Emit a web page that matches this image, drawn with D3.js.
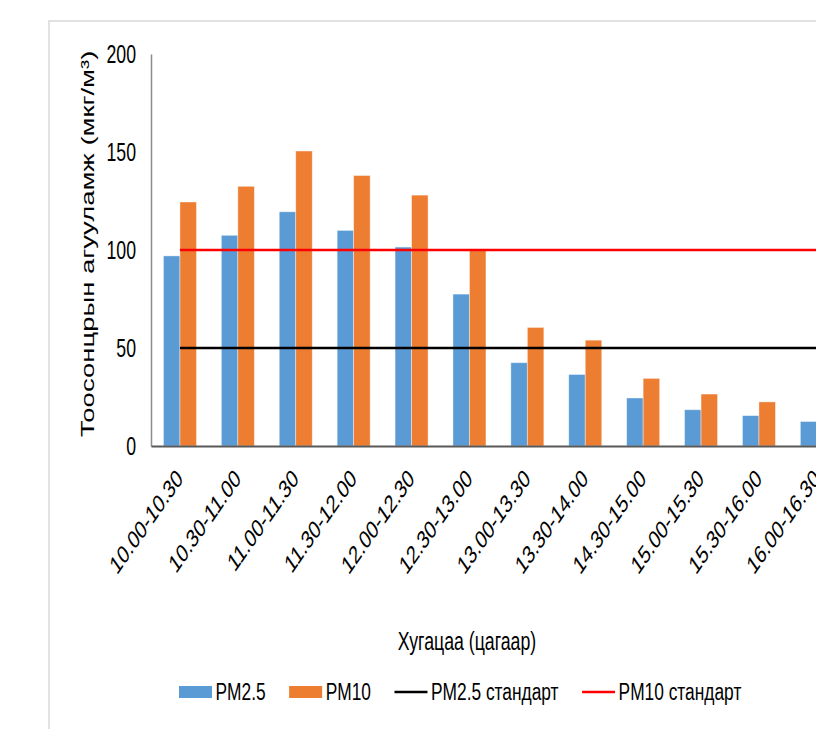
<!DOCTYPE html>
<html>
<head>
    <title>PM2.5 / PM10</title>
    <script src="https://cdnjs.cloudflare.com/ajax/libs/d3/7.8.5/d3.min.js"></script>
    <style>
        body {
            margin: 0;
            background-color: white;
            overflow: hidden;
        }
        #chart {
            width: 816px;
            height: 729px;
        }
        text {
            font-family: "Liberation Sans", Arial, sans-serif;
            fill: #000;
        }
    </style>
</head>
<body>
    <div id="chart"></div>

    <script>
        // chart data
        const categories = ['10.00-10.30', '10.30-11.00', '11.00-11.30', '11.30-12.00', '12.00-12.30', '12.30-13.00',
            '13.00-13.30', '13.30-14.00', '14.30-15.00', '15.00-15.30', '15.30-16.00', '16.00-16.30'];
        const pm25 = [97, 107.5, 119.5, 110, 101.5, 77.5, 42.5, 36.5, 24.5, 18.5, 15.5, 12.5];
        const pm10 = [124.5, 132.5, 150.5, 138, 128, 100, 60.5, 54, 34.5, 26.5, 22.5, 18];
        const pm25Standard = 50;
        const pm10Standard = 100;
        const yTicks = [0, 50, 100, 150, 200];
        const seriesNames = ['PM2.5', 'PM10', 'PM2.5 стандарт', 'PM10 стандарт'];
        const yTitle = 'Тоосонцрын агууламж (мкг/м³)';
        const xTitle = 'Хугацаа (цагаар)';

        const colors = {
            'PM2.5': '#5b9bd5',
            'PM10': '#ed7d31',
            'PM2.5 стандарт': '#000000',
            'PM10 стандарт': '#ff0000'
        };

        // the picture is squeezed sideways, so every text gets the same squeeze
        const squeeze = 0.7;
        const fontSize = 25.3;
        const legendFont = 24.8;

        const svg = d3.select('#chart')
            .append('svg')
                .attr('width', 816)
                .attr('height', 729);

        // chart frame
        svg.append('rect')
            .attr('x', 49)
            .attr('y', 21)
            .attr('width', 900)
            .attr('height', 800)
            .attr('fill', 'white')
            .attr('stroke', '#d9d9d9')
            .attr('stroke-width', 1.5);

        // scales
        const plotLeft = 151;
        const step = 57.9;
        const x = d3.scaleBand()
            .domain(categories)
            .range([plotLeft, plotLeft + step * categories.length])
            .paddingInner(0.43)
            .paddingOuter(0.215);

        const xSub = d3.scaleBand()
            .domain(['PM2.5', 'PM10'])
            .range([0, x.bandwidth()]);

        const y = d3.scaleLinear()
            .domain([0, 200])
            .range([446, 54]);

        // bars
        const rows = categories.map((c, i) => ({cat: c, 'PM2.5': pm25[i], 'PM10': pm10[i]}));
        const groups = svg.append('g')
            .selectAll('g')
            .data(rows)
            .join('g')
                .attr('transform', d => `translate(${x(d.cat)},0)`);

        groups.selectAll('rect')
            .data(d => ['PM2.5', 'PM10'].map(k => ({key: k, value: d[k]})))
            .join('rect')
                .attr('x', d => xSub(d.key))
                .attr('y', d => y(d.value))
                .attr('width', xSub.bandwidth())
                .attr('height', d => y(0) - y(d.value))
                .attr('fill', d => colors[d.key])
                .attr('stroke', 'rgba(255,255,255,0.5)')
                .attr('stroke-width', 0.8);

        // Y axis (line + labels, no ticks)
        const yAxis = svg.append('g')
            .attr('transform', `translate(${plotLeft},0)`)
            .call(d3.axisLeft(y).tickValues(yTicks).tickSize(0));
        yAxis.select('.domain')
            .attr('stroke', '#8c8c8c')
            .attr('stroke-width', 1.5);
        yAxis.selectAll('.tick text')
            .attr('x', null)
            .attr('dy', null)
            .attr('text-anchor', 'end')
            .attr('dominant-baseline', 'central')
            .attr('transform', `translate(-15,0) scale(${squeeze},1)`)
            .style('font-size', fontSize + 'px')
            .style('font-family', '"Liberation Sans", Arial, sans-serif')
            .attr('fill', '#000');

        // X axis
        const xAxis = svg.append('g')
            .attr('transform', `translate(0,${y(0)})`)
            .call(d3.axisBottom(x).tickSize(0).tickSizeOuter(0));
        xAxis.select('.domain')
            .attr('stroke', '#595959')
            .attr('stroke-width', 2);
        xAxis.selectAll('.tick text')
            .attr('y', null)
            .attr('dy', null)
            .attr('text-anchor', 'end')
            .attr('transform', `translate(4,34) scale(${squeeze},1) rotate(-45)`)
            .style('font-size', fontSize + 'px')
            .style('font-family', '"Liberation Sans", Arial, sans-serif')
            .attr('fill', '#000');

        // standard lines
        const first = categories[0];
        const last = categories[categories.length - 1];
        [[pm25Standard, 'PM2.5 стандарт'], [pm10Standard, 'PM10 стандарт']].forEach(([v, name]) => {
            svg.append('line')
                .attr('x1', x(first) + x.bandwidth() / 2)
                .attr('x2', x(last) + x.bandwidth() / 2)
                .attr('y1', y(v))
                .attr('y2', y(v))
                .attr('stroke', colors[name])
                .attr('stroke-width', 2.5);
        });

        // axis titles
        svg.append('text')
            .attr('transform', `translate(94,244) scale(${squeeze},1) rotate(-90)`)
            .attr('text-anchor', 'middle')
            .style('font-size', '27.5px')
            .text(yTitle);

        svg.append('text')
            .attr('transform', `translate(467,650) scale(${squeeze},1)`)
            .attr('text-anchor', 'middle')
            .style('font-size', fontSize + 'px')
            .text(xTitle);

        // legend
        const legend = svg.append('g').attr('transform', 'translate(179,692)');
        let lx = 0;
        seriesNames.forEach((name, i) => {
            const g = legend.append('g').attr('transform', `translate(${lx},0)`);
            if (i < 2) {
                g.append('rect')
                    .attr('x', 0).attr('y', -6)
                    .attr('width', 33).attr('height', 12)
                    .attr('fill', colors[name]);
            } else {
                g.append('line')
                    .attr('x1', 0).attr('x2', 33)
                    .attr('y1', 0).attr('y2', 0)
                    .attr('stroke', colors[name])
                    .attr('stroke-width', 2.5);
            }
            const t = g.append('text')
                .attr('transform', `translate(36.5,0) scale(${squeeze},1)`)
                .attr('dominant-baseline', 'central')
                .style('font-size', legendFont + 'px')
                .text(name);
            lx += 36.5 + t.node().getComputedTextLength() * squeeze + 23.5;
        });
    </script>
</body>
</html>
